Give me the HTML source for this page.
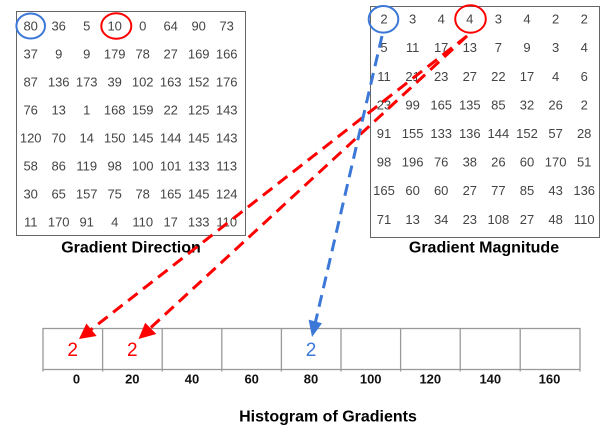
<!DOCTYPE html>
<html>
<head>
<meta charset="utf-8">
<style>
html,body{margin:0;padding:0;background:#fff;}
svg{display:block;}
.g{font-family:"Liberation Sans",Arial,sans-serif;font-size:13px;fill:#444;text-anchor:middle;}
.t{font-family:"Liberation Sans",Arial,sans-serif;font-size:16px;font-weight:bold;fill:#000;text-anchor:middle;}
.k{font-family:"Liberation Sans",Arial,sans-serif;font-size:13px;font-weight:bold;fill:#111;text-anchor:middle;}
.b{font-family:"Liberation Sans",Arial,sans-serif;font-size:19px;text-anchor:middle;}
</style>
</head>
<body>
<svg width="616" height="436" viewBox="0 0 616 436" xmlns="http://www.w3.org/2000/svg">
<rect x="0" y="0" width="616" height="436" fill="#fff"/>

<!-- Gradient Direction box -->
<rect x="16.5" y="11.5" width="229" height="224" fill="none" stroke="#666" stroke-width="1"/>
<g class="g">
<text x="30.7" y="30.6">80</text><text x="58.7" y="30.6">36</text><text x="86.7" y="30.6">5</text><text x="114.7" y="30.6">10</text><text x="142.7" y="30.6">0</text><text x="170.7" y="30.6">64</text><text x="198.7" y="30.6">90</text><text x="226.7" y="30.6">73</text>
<text x="30.7" y="58.6">37</text><text x="58.7" y="58.6">9</text><text x="86.7" y="58.6">9</text><text x="114.7" y="58.6">179</text><text x="142.7" y="58.6">78</text><text x="170.7" y="58.6">27</text><text x="198.7" y="58.6">169</text><text x="226.7" y="58.6">166</text>
<text x="30.7" y="86.6">87</text><text x="58.7" y="86.6">136</text><text x="86.7" y="86.6">173</text><text x="114.7" y="86.6">39</text><text x="142.7" y="86.6">102</text><text x="170.7" y="86.6">163</text><text x="198.7" y="86.6">152</text><text x="226.7" y="86.6">176</text>
<text x="30.7" y="114.6">76</text><text x="58.7" y="114.6">13</text><text x="86.7" y="114.6">1</text><text x="114.7" y="114.6">168</text><text x="142.7" y="114.6">159</text><text x="170.7" y="114.6">22</text><text x="198.7" y="114.6">125</text><text x="226.7" y="114.6">143</text>
<text x="30.7" y="142.6">120</text><text x="58.7" y="142.6">70</text><text x="86.7" y="142.6">14</text><text x="114.7" y="142.6">150</text><text x="142.7" y="142.6">145</text><text x="170.7" y="142.6">144</text><text x="198.7" y="142.6">145</text><text x="226.7" y="142.6">143</text>
<text x="30.7" y="170.6">58</text><text x="58.7" y="170.6">86</text><text x="86.7" y="170.6">119</text><text x="114.7" y="170.6">98</text><text x="142.7" y="170.6">100</text><text x="170.7" y="170.6">101</text><text x="198.7" y="170.6">133</text><text x="226.7" y="170.6">113</text>
<text x="30.7" y="198.6">30</text><text x="58.7" y="198.6">65</text><text x="86.7" y="198.6">157</text><text x="114.7" y="198.6">75</text><text x="142.7" y="198.6">78</text><text x="170.7" y="198.6">165</text><text x="198.7" y="198.6">145</text><text x="226.7" y="198.6">124</text>
<text x="30.7" y="226.6">11</text><text x="58.7" y="226.6">170</text><text x="86.7" y="226.6">91</text><text x="114.7" y="226.6">4</text><text x="142.7" y="226.6">110</text><text x="170.7" y="226.6">17</text><text x="198.7" y="226.6">133</text><text x="226.7" y="226.6">110</text>
</g>
<ellipse cx="30.7" cy="26" rx="14.3" ry="12.5" fill="none" stroke="#3c78d8" stroke-width="2"/>
<ellipse cx="116.3" cy="26" rx="15" ry="12.8" fill="none" stroke="#ff0000" stroke-width="2"/>
<text class="t" x="131" y="252.5">Gradient Direction</text>

<!-- Gradient Magnitude box -->
<rect x="370.5" y="6.5" width="229" height="231" fill="none" stroke="#666" stroke-width="1"/>
<g class="g">
<text x="384" y="23.6">2</text><text x="412.6" y="23.6">3</text><text x="441.2" y="23.6">4</text><text x="469.8" y="23.6">4</text><text x="498.4" y="23.6">3</text><text x="527" y="23.6">4</text><text x="555.6" y="23.6">2</text><text x="584.2" y="23.6">2</text>
<text x="384" y="52.2">5</text><text x="412.6" y="52.2">11</text><text x="441.2" y="52.2">17</text><text x="469.8" y="52.2">13</text><text x="498.4" y="52.2">7</text><text x="527" y="52.2">9</text><text x="555.6" y="52.2">3</text><text x="584.2" y="52.2">4</text>
<text x="384" y="80.8">11</text><text x="412.6" y="80.8">21</text><text x="441.2" y="80.8">23</text><text x="469.8" y="80.8">27</text><text x="498.4" y="80.8">22</text><text x="527" y="80.8">17</text><text x="555.6" y="80.8">4</text><text x="584.2" y="80.8">6</text>
<text x="384" y="109.4">23</text><text x="412.6" y="109.4">99</text><text x="441.2" y="109.4">165</text><text x="469.8" y="109.4">135</text><text x="498.4" y="109.4">85</text><text x="527" y="109.4">32</text><text x="555.6" y="109.4">26</text><text x="584.2" y="109.4">2</text>
<text x="384" y="138">91</text><text x="412.6" y="138">155</text><text x="441.2" y="138">133</text><text x="469.8" y="138">136</text><text x="498.4" y="138">144</text><text x="527" y="138">152</text><text x="555.6" y="138">57</text><text x="584.2" y="138">28</text>
<text x="384" y="166.6">98</text><text x="412.6" y="166.6">196</text><text x="441.2" y="166.6">76</text><text x="469.8" y="166.6">38</text><text x="498.4" y="166.6">26</text><text x="527" y="166.6">60</text><text x="555.6" y="166.6">170</text><text x="584.2" y="166.6">51</text>
<text x="384" y="195.2">165</text><text x="412.6" y="195.2">60</text><text x="441.2" y="195.2">60</text><text x="469.8" y="195.2">27</text><text x="498.4" y="195.2">77</text><text x="527" y="195.2">85</text><text x="555.6" y="195.2">43</text><text x="584.2" y="195.2">136</text>
<text x="384" y="223.8">71</text><text x="412.6" y="223.8">13</text><text x="441.2" y="223.8">34</text><text x="469.8" y="223.8">23</text><text x="498.4" y="223.8">108</text><text x="527" y="223.8">27</text><text x="555.6" y="223.8">48</text><text x="584.2" y="223.8">110</text>
</g>
<ellipse cx="383.5" cy="19.3" rx="14.8" ry="13.3" fill="none" stroke="#3c78d8" stroke-width="2"/>
<ellipse cx="470.5" cy="19" rx="15.3" ry="13.7" fill="none" stroke="#ff0000" stroke-width="2"/>
<text class="t" x="484" y="252.5">Gradient Magnitude</text>

<!-- Histogram -->
<g stroke="#999" stroke-width="1.3" fill="none">
<rect x="43" y="328.5" width="537" height="41"/>
<line x1="102.6" y1="328.5" x2="102.6" y2="371.5"/>
<line x1="162.2" y1="328.5" x2="162.2" y2="371.5"/>
<line x1="221.8" y1="328.5" x2="221.8" y2="371.5"/>
<line x1="281.4" y1="328.5" x2="281.4" y2="371.5"/>
<line x1="341" y1="328.5" x2="341" y2="371.5"/>
<line x1="400.6" y1="328.5" x2="400.6" y2="371.5"/>
<line x1="460.2" y1="328.5" x2="460.2" y2="371.5"/>
<line x1="520.2" y1="328.5" x2="520.2" y2="371.5"/>
<line x1="43" y1="369.5" x2="43" y2="371.5"/>
<line x1="580" y1="369.5" x2="580" y2="371.5"/>
</g>
<g class="k">
<text x="76.5" y="383.5">0</text>
<text x="132.3" y="383.5">20</text>
<text x="192" y="383.5">40</text>
<text x="251.7" y="383.5">60</text>
<text x="311" y="383.5">80</text>
<text x="370.7" y="383.5">100</text>
<text x="430.3" y="383.5">120</text>
<text x="490.3" y="383.5">140</text>
<text x="549.5" y="383.5">160</text>
</g>
<text class="b" x="72.7" y="356" fill="#ff0000">2</text>
<text class="b" x="132.3" y="356" fill="#ff0000">2</text>
<text class="b" x="311" y="356" fill="#3c78d8">2</text>
<text class="t" x="328" y="421.5">Histogram of Gradients</text>

<!-- Arrows -->
<g fill="none" stroke-width="3" stroke-dasharray="12 7">
<line x1="467" y1="36" x2="90.8" y2="329.8" stroke="#ff0000"/>
<line x1="467" y1="36" x2="149.5" y2="328.8" stroke="#ff0000"/>
<line x1="382" y1="36" x2="315.4" y2="322.4" stroke="#3c78d8"/>
</g>
<polygon points="79,339 86.4,323.5 96.6,336" fill="#ff0000"/>
<polygon points="138.5,339 145.2,322.8 156.3,334" fill="#ff0000"/>
<polygon points="312,337 308.6,319.6 322,323.3" fill="#3c78d8"/>
</svg>
</body>
</html>
